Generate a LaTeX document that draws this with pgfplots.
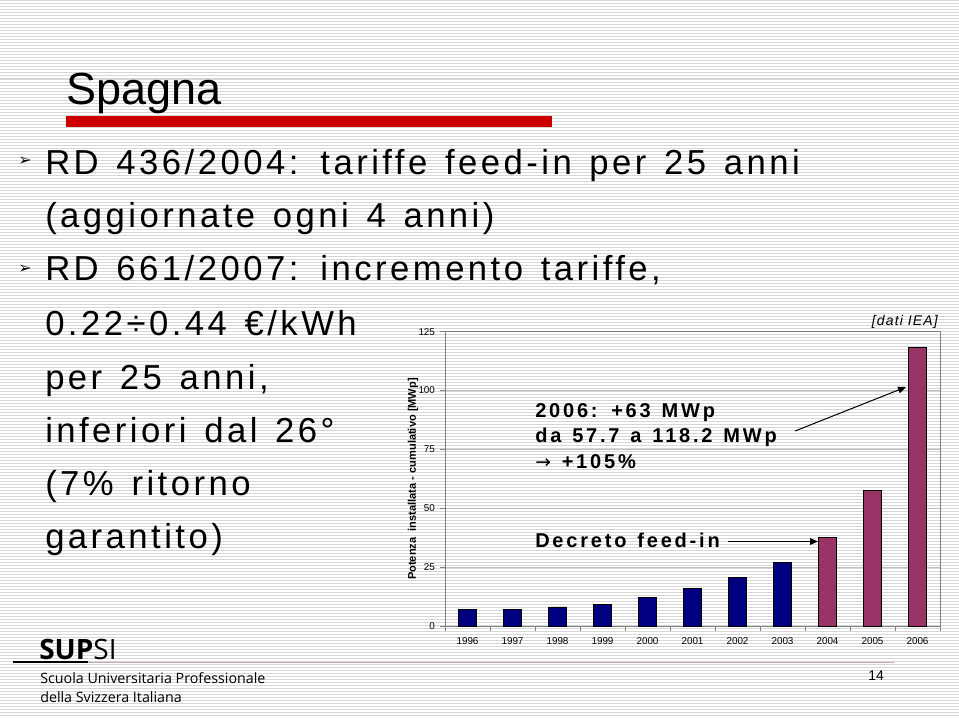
\documentclass[border=0pt]{standalone}
\usepackage{pgfplots}
\pgfplotsset{compat=1.18}
\usetikzlibrary{arrows.meta}
\usepackage{fontspec}
\setmainfont{Liberation Sans}
\newfontfamily\bodyfont[LetterSpace=10,WordSpace=1.35]{Liberation Sans}
\newfontfamily\annfont[LetterSpace=14,WordSpace=1.3]{Liberation Sans}
\newfontfamily\notefont[LetterSpace=8]{Liberation Sans}
\newfontfamily\logofont{Open Sans}
\newfontfamily\symfont{DejaVu Sans}
\definecolor{barblue}{HTML}{000080}
\definecolor{barmaroon}{HTML}{993366}
\definecolor{titlered}{HTML}{CC0000}
\definecolor{logoline}{HTML}{C8A8A8}

\begin{document}
\begin{tikzpicture}
\begin{scope}[x=0.75pt,y=-0.75pt]
\useasboundingbox (0,0) rectangle (959,717);
\fill[white] (0,0) rectangle (959,717);
\foreach \i in {1,4,...,717} \draw[line width=0.75pt, black!16] (0,\i) -- (959,\i);
\end{scope}

% chart
\begin{axis}[
  at={(333.75pt,-469.5pt)}, anchor=south west,
  scale only axis, width=371.25pt, height=220.7pt,
  xmin=-0.5, xmax=10.5, ymin=0, ymax=125,
  ytick={0,25,...,125},
  xtick={-0.5,0.5,...,10.5}, xticklabels={},
  extra x ticks={0,1,...,10},
  extra x tick labels={1996,1997,1998,1999,2000,2001,2002,2003,2004,2005,2006},
  extra x tick style={major tick length=0pt, grid=none},
  tick pos=left, tick align=outside,
  major tick length=4pt,
  tick style={black!50, line width=0.6pt},
  axis line style={black!50, line width=0.75pt},
  ymajorgrids, grid style={black!25, line width=0.5pt},
  /pgf/number format/assume math mode=true,
  ticklabel style={font=\fontsize{7.4}{8}\selectfont},
  xticklabel style={yshift=-5pt},
]
\addplot[ybar, bar width=13.75pt, fill=barblue, draw=black, line width=0.4pt]
  coordinates {(0,7.1) (1,7.2) (2,8.1) (3,9.2) (4,12.3) (5,15.9) (6,20.6) (7,27.0)};
\addplot[ybar, bar width=13.75pt, fill=barmaroon, draw=black, line width=0.4pt]
  coordinates {(8,37.5) (9,57.7) (10,118.2)};
\end{axis}

\begin{scope}[x=0.75pt,y=-0.75pt]
% title
\node[anchor=base west, inner sep=0pt, font=\fontsize{33.75}{40}\selectfont] at (66,104) {Spagna};
\fill[titlered] (66,116) rectangle (552,127);

% bullets
\node[inner sep=0pt, font=\symfont\fontsize{12}{14}\selectfont] at (25,161) {➢};
\node[inner sep=0pt, font=\symfont\fontsize{12}{14}\selectfont] at (25,269) {➢};

% body text
\begin{scope}[every node/.style={anchor=base west, inner sep=0pt, font=\bodyfont\fontsize{26}{30}\selectfont}]
\node at (45,174) {RD 436/2004: tariffe feed-in per 25 anni};
\node at (45,227) {(aggiornate ogni 4 anni)};
\node at (45,280) {RD 661/2007: incremento tariffe,};
\node at (45,335) {0.22÷0.44 €/kWh};
\node at (45,389) {per 25 anni,};
\node at (45,442) {inferiori dal 26°};
\node at (45,495) {(7\% ritorno};
\node at (45,548) {garantito)};
\end{scope}

\node[rotate=90, inner sep=0pt, font=\bfseries\fontsize{8.3}{10}\selectfont] at (413,479) {Potenza\ \ installata - cumulativo [MWp]};
\node[anchor=base east, inner sep=0pt, font=\notefont\itshape\fontsize{10.5}{12}\selectfont] at (938,325) {[dati IEA]};

% annotations
\begin{scope}[every node/.style={anchor=base west, inner sep=0pt, font=\annfont\bfseries\fontsize{15}{17}\selectfont}]
\node at (535,417) {2006: +63 MWp};
\node at (535,442.5) {da 57.7 a 118.2 MWp};
\node at (535,468) {{\symfont\mdseries\fontsize{14}{16}\selectfont →} +105\%};
\node at (535,547) {Decreto feed-in};
\end{scope}
\draw[-{Triangle[length=6pt,width=5pt]}, line width=0.75pt] (728,541.5) -- (818,541.5);
\draw[-{Triangle[length=6pt,width=5pt]}, line width=0.75pt] (795,431) -- (906,387);

% logo
\node[anchor=base west, inner sep=0pt, font=\logofont\fontsize{21}{24}\selectfont] at (39,659) {\textbf{SUP}SI};
\draw[line width=1.5pt, black] (13,662) -- (88,662);
\draw[line width=0.75pt, logoline] (88,662) -- (894,662);
\node[anchor=base west, inner sep=0pt, font=\logofont\fontsize{10.7}{12}\selectfont] at (40,683) {Scuola Universitaria Professionale};
\node[anchor=base west, inner sep=0pt, font=\logofont\fontsize{10.7}{12}\selectfont] at (40,702) {della Svizzera Italiana};
\node[anchor=base west, inner sep=0pt, font=\fontsize{10.5}{12}\selectfont] at (868,680) {14};
\end{scope}
\end{tikzpicture}
\end{document}
